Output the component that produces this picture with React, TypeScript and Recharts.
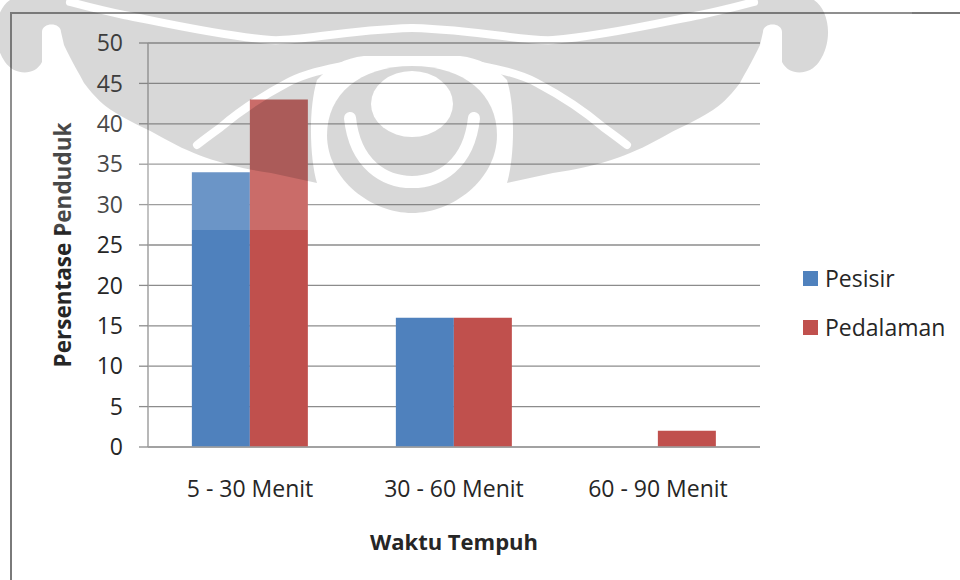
import { Bar, BarChart, CartesianGrid, Label, Legend, XAxis, YAxis } from "recharts";

const categories = ["5 - 30 Menit", "30 - 60 Menit", "60 - 90 Menit"];
const seriesNames = ["Pesisir", "Pedalaman"];
const pesisir = [34, 16, 0];
const pedalaman = [43, 16, 2];
const yTicks = [0, 5, 10, 15, 20, 25, 30, 35, 40, 45, 50];

const data = categories.map((waktu, i) => ({
  waktu,
  Pesisir: pesisir[i],
  Pedalaman: pedalaman[i],
}));

const FONT = "'Open Sans', Lato, sans-serif";
const TEXT = "#262626";
const GRID = "#8c8c8c";

function renderLegend(props: { payload?: Array<{ value: string; color: string }> }) {
  const items = [...(props.payload ?? [])].sort(
    (a, b) => seriesNames.indexOf(a.value) - seriesNames.indexOf(b.value)
  );
  return (
    <div style={{ fontFamily: FONT, fontSize: 23, color: TEXT }}>
      {items.map((item) => (
        <div
          key={item.value}
          style={{ display: "flex", alignItems: "center", height: 24, marginBottom: 25 }}
        >
          <span
            style={{
              display: "inline-block",
              width: 15,
              height: 15,
              background: item.color,
              marginRight: 7,
            }}
          />
          <span>{item.value}</span>
        </div>
      ))}
    </div>
  );
}

function YTitle(props: { viewBox?: { x: number; y: number; width: number; height: number } }) {
  const vb = props.viewBox ?? { x: 0, y: 0, width: 0, height: 0 };
  const cx = 62;
  const cy = vb.y + vb.height / 2;
  return (
    <text
      x={cx}
      y={cy}
      transform={`rotate(-90 ${cx} ${cy})`}
      textAnchor="middle"
      dominantBaseline="central"
      fontFamily={FONT}
      fontSize={22.5}
      fontWeight={700}
      fill={TEXT}
    >
      Persentase Penduduk
    </text>
  );
}

// left wing of the faded emblem behind the top of the chart; the right wing is mirrored
function EmblemWing() {
  return (
    <path
      d="M412 0 H10 C-5 10 -10 40 5 62 C15 76 35 76 42 62 L42 32 C42 22 61 22 61 32 L64 45
         C72 62 80 75 84 83 C95 98 105 106 111 110 C130 122 145 128 154 133
         C175 145 190 152 204 157 C230 166 250 170 271 173 L317 183
         C310 160 308 110 317 80 C330 66 345 58 364 56 L412 56 Z"
    />
  );
}

function EmblemWingGaps() {
  return (
    <g fill="none" stroke="#000" strokeLinecap="round">
      <path
        d="M412 28 C340 30 300 42 271 40 C220 36 160 22 124 15 C100 10 85 6 70 2"
        strokeWidth={8}
      />
      <path
        d="M404 60 C364 60 310 70 287 83 C255 100 235 115 221 127 C210 135 203 140 197 145"
        strokeWidth={8}
      />
    </g>
  );
}

function Watermark() {
  const mirror = "translate(824 0) scale(-1 1)";
  return (
    <svg
      width={960}
      height={580}
      style={{ position: "absolute", left: 0, top: 0, pointerEvents: "none" }}
    >
      <defs>
        <mask id="emblem-gaps" maskUnits="userSpaceOnUse" x={0} y={0} width={960} height={580}>
          <rect width={960} height={580} fill="#fff" />
          <EmblemWingGaps />
          <g transform={mirror}>
            <EmblemWingGaps />
          </g>
          <ellipse cx={412} cy={104} rx={41} ry={33} fill="#000" />
          <path
            d="M350 118 C355 165 385 182 412 182 C439 182 469 165 474 118"
            fill="none"
            stroke="#000"
            strokeWidth={12}
            strokeLinecap="round"
          />
        </mask>
      </defs>
      <rect x={0} y={0} width={912} height={230} fill="#fff" opacity={0.16} />
      <g mask="url(#emblem-gaps)" opacity={0.15} fill="#000">
        <EmblemWing />
        <g transform={mirror}>
          <EmblemWing />
        </g>
        <path d="M412 66 C465 66 497 95 497 135 C497 180 452 213 412 213 C372 213 327 180 327 135 C327 95 359 66 412 66 Z" />
      </g>
    </svg>
  );
}

export default function App() {
  return (
    <div
      style={{
        position: "absolute",
        left: 0,
        top: 0,
        width: 960,
        height: 580,
        background: "#fff",
        overflow: "hidden",
      }}
    >
      <div
        style={{
          position: "absolute",
          left: 10,
          top: 12,
          width: 960,
          height: 580,
          borderTop: "2px solid #7a7a7a",
          borderLeft: "2px solid #7a7a7a",
        }}
      />
      <BarChart
        width={960}
        height={580}
        data={data}
        margin={{ top: 43, right: 200, bottom: 73, left: 0 }}
        barCategoryGap="21.5%"
        barGap={0}
        style={{ position: "absolute", left: 0, top: 0 }}
      >
        <CartesianGrid vertical={false} stroke={GRID} strokeWidth={1.3} />
        <XAxis
          dataKey="waktu"
          height={60}
          tickLine={false}
          tickMargin={28}
          axisLine={{ stroke: "#a0a0a0", strokeWidth: 1.5 }}
          tick={{ fill: TEXT, fontSize: 23, fontFamily: FONT }}
          interval={0}
        >
          <Label
            value="Waktu Tempuh"
            position="bottom"
            offset={27}
            fill={TEXT}
            fontSize={22}
            fontWeight={700}
            fontFamily={FONT}
          />
        </XAxis>
        <YAxis
          width={148}
          domain={[0, 50]}
          ticks={yTicks}
          interval={0}
          tickSize={9}
          tickMargin={16}
          axisLine={{ stroke: "#a0a0a0", strokeWidth: 1.5 }}
          tickLine={{ stroke: GRID, strokeWidth: 1.3 }}
          tick={{ fill: TEXT, fontSize: 23, fontFamily: FONT }}
        >
          <Label content={<YTitle />} />
        </YAxis>
        <Legend
          layout="vertical"
          verticalAlign="middle"
          align="center"
          wrapperStyle={{ left: 803, top: 266, width: 160 }}
          content={renderLegend}
        />
        <Bar dataKey="Pesisir" fill="#4f81bd" isAnimationActive={false} />
        <Bar dataKey="Pedalaman" fill="#c0504d" isAnimationActive={false} />
      </BarChart>
      <Watermark />
    </div>
  );
}
